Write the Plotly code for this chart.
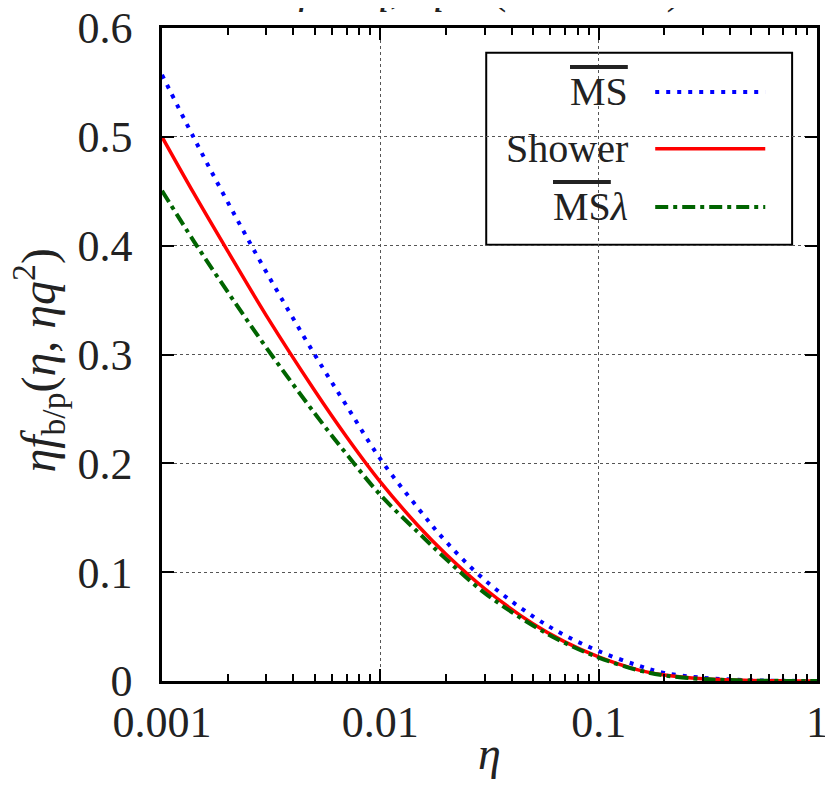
import plotly.graph_objects as go

eta = [0.001, 0.0014, 0.002, 0.003, 0.005, 0.007, 0.01, 0.015, 0.02, 0.03,
       0.05, 0.07, 0.1, 0.15, 0.2, 0.3, 0.5, 0.7, 1.0]
ms = [0.557, 0.499, 0.440, 0.376, 0.300, 0.253, 0.204, 0.158, 0.128, 0.093,
      0.0594, 0.042, 0.0275, 0.0145, 0.0075, 0.003, 0.0007, 0.0002, 0.0]
shower = [0.500, 0.448, 0.395, 0.336, 0.267, 0.2245, 0.183, 0.142, 0.1165, 0.085,
          0.0526, 0.036, 0.0222, 0.0105, 0.0055, 0.002, 0.0005, 0.0001, 0.0]
ms_lambda = [0.4505, 0.404, 0.3575, 0.3065, 0.246, 0.2085, 0.171, 0.136, 0.112, 0.081,
             0.051, 0.035, 0.0215, 0.0102, 0.0052, 0.0018, 0.0004, 0.0001, 0.0]

names = ['<span style="text-decoration:overline">MS</span>',
         'Shower',
         '<span style="text-decoration:overline">MS</span><i>λ</i>']
colors = ['#0000ff', '#ff0000', '#006400']
dashes = ['4px,7px', 'solid', '13px,5px,4px,5px']
widths = [4, 3.5, 4]

font = "Liberation Serif"
ink = '#222'

fig = go.Figure()
for y, n, c, d, w in zip([ms, shower, ms_lambda], names, colors, dashes, widths):
    fig.add_trace(go.Scatter(x=eta, y=y, name=n, mode='lines',
                             line=dict(color=c, dash=d, width=w, shape='spline', smoothing=1),
                             showlegend=False))

# hand-made legend (text on the left, line sample on the right, as in gnuplot)
leg_y = [0.902, 0.815, 0.726]
for n, c, d, w, yy in zip(names, colors, dashes, widths, leg_y):
    fig.add_annotation(x=0.714, y=yy, xref='paper', yref='paper', text=n,
                       showarrow=False, xanchor='right', yanchor='middle',
                       font=dict(family=font, size=40, color=ink))
    fig.add_shape(type='line', xref='paper', yref='paper', x0=0.753, x1=0.921,
                  y0=yy, y1=yy, line=dict(color=c, dash=d, width=w))
fig.add_shape(type='rect', xref='paper', yref='paper', x0=0.495, x1=0.962,
              y0=0.668, y1=0.962, line=dict(color='black', width=2),
              fillcolor='white', layer='below')

# top title, mostly cut off by the page edge
fig.add_annotation(x=0.5, y=1.02, xref='paper', yref='paper', showarrow=False,
                   yanchor='bottom', xanchor='center',
                   text='<i>μ</i> = <i>q</i>,  <i>q</i> = (100 GeV)',
                   font=dict(family=font, size=44, color=ink))

# y axis title as an annotation
fig.add_annotation(x=-0.19, y=0.49, xref='paper', yref='paper', showarrow=False,
                   textangle=-90, xanchor='center', yanchor='middle',
                   text='<i>ηf</i><sub>b/p</sub>(<i>η</i>, <i>ηq</i><sup>2</sup>)',
                   font=dict(family=font, size=48, color=ink))

minor_vals = [k * 10.0 ** e for e in (-3, -2, -1) for k in range(2, 10)]

fig.update_xaxes(type='log', range=[-3, 0], automargin=False, showline=True,
                 linecolor='black', linewidth=2.5, mirror='allticks', ticks='inside',
                 ticklen=12, tickwidth=2, tickcolor='black', ticklabeloverflow='allow',
                 tickvals=[0.001, 0.01, 0.1, 1], ticktext=['0.001', '0.01', '0.1', '1'],
                 showgrid=True, gridcolor='#555', griddash='dot', gridwidth=1,
                 minor=dict(tickvals=minor_vals, ticks='inside', ticklen=7, tickwidth=1.5,
                            tickcolor='black', showgrid=False),
                 tickfont=dict(family=font, size=44, color=ink),
                 title=dict(text='<i>η</i>', font=dict(family=font, size=46, color=ink),
                            standoff=2),
                 zeroline=False)
fig.update_yaxes(range=[0, 0.6], dtick=0.1, automargin=False, showline=True,
                 linecolor='black', linewidth=2.5, mirror='allticks', ticks='inside',
                 ticklen=12, tickwidth=2, tickcolor='black', tickformat='.1~f',
                 ticklabelstandoff=18, ticklabeloverflow='allow',
                 showgrid=True, gridcolor='#555', griddash='dot', gridwidth=1,
                 tickfont=dict(family=font, size=44, color=ink),
                 zeroline=False)
# the page adds an 8px body margin, so the figure is made 16px smaller
fig.update_layout(width=817, height=771, margin=dict(l=154, r=8, t=20, b=98),
                  plot_bgcolor='white', paper_bgcolor='white', showlegend=False)
fig.write_html("out.html")
